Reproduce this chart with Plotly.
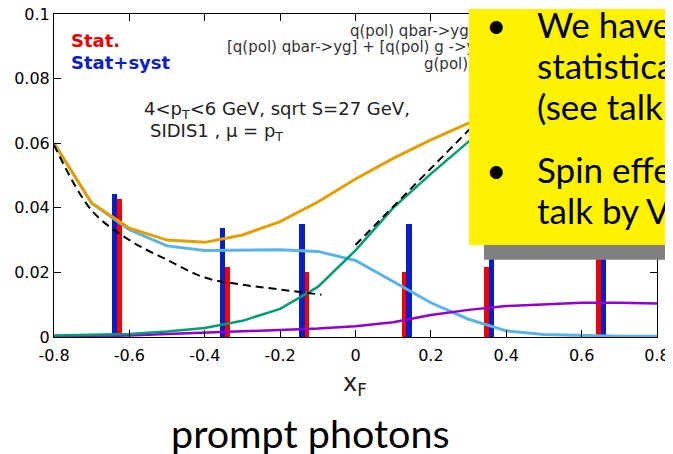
import plotly.graph_objects as go

# ---- data ----
x_grid = [-0.8, -0.7, -0.6, -0.5, -0.4, -0.3, -0.2, -0.1, 0.0, 0.1, 0.2, 0.3, 0.4, 0.5, 0.6, 0.7, 0.8]
orange_y = [0.0600, 0.0415, 0.0337, 0.0300, 0.0293, 0.0316, 0.0357, 0.0418, 0.0489, 0.0553, 0.0610, 0.0662, 0.0710]
lightblue_y = [0.0600, 0.0414, 0.0332, 0.0282, 0.0268, 0.0268, 0.0270, 0.0265, 0.0237, 0.0172, 0.0106, 0.0055, 0.0019, 0.0008, 0.0004, 0.0002, 0.0002]
green_y = [0.0005, 0.0006, 0.0009, 0.0017, 0.0028, 0.0050, 0.0087, 0.0155, 0.0268, 0.0400, 0.0505, 0.0605, 0.0700]
purple_y = [0.0000, 0.0002, 0.0005, 0.0009, 0.0013, 0.0017, 0.0021, 0.0026, 0.0033, 0.0046, 0.0068, 0.0084, 0.0096, 0.0102, 0.0106, 0.0106, 0.0104]

dash1_x = [-0.8, -0.7, -0.6, -0.5, -0.4, -0.3, -0.2, -0.09]
dash1_y = [0.0595, 0.0392, 0.0300, 0.0239, 0.0184, 0.0162, 0.0147, 0.0131]
dash2_x = [0.0, 0.1, 0.2, 0.3, 0.35]
dash2_y = [0.0285, 0.0402, 0.0522, 0.0640, 0.0700]

stat_x = [-0.627, -0.340, -0.129, 0.129, 0.348, 0.645]
stat_y = [0.0426, 0.0216, 0.0200, 0.0200, 0.0216, 0.0426]
syst_x = [-0.639, -0.353, -0.142, 0.142, 0.362, 0.659]
syst_y = [0.0442, 0.0337, 0.0349, 0.0349, 0.0337, 0.0442]

x_ticks = [-0.8, -0.6, -0.4, -0.2, 0, 0.2, 0.4, 0.6, 0.8]
x_ticklabels = ["-0.8", "-0.6", "-0.4", "-0.2", "0", "0.2", "0.4", "0.6", "0.8"]
y_ticks = [0, 0.02, 0.04, 0.06, 0.08, 0.1]
y_ticklabels = ["0", "0.02", "0.04", "0.06", "0.08", "0.1"]

key_lines = ["q(pol) qbar->yg", "[q(pol) qbar->yg] + [q(pol) g ->yq]", "g(pol) q->yq"]
slide_lines = ["We have", "statistical", "(see talk", "Spin effects", "talk by V"]

CHART_FONT = "DejaVu Sans"
SLIDE_FONT = "Lato"

fig = go.Figure()

fig.add_trace(go.Scatter(x=x_grid[:len(lightblue_y)], y=lightblue_y, mode="lines",
                         line=dict(color="#56b4e9", width=3), showlegend=False))
fig.add_trace(go.Scatter(x=x_grid[:len(purple_y)], y=purple_y, mode="lines",
                         line=dict(color="#9400d3", width=2.5), showlegend=False))
fig.add_trace(go.Scatter(x=x_grid[:len(green_y)], y=green_y, mode="lines",
                         line=dict(color="#009e73", width=2.5), showlegend=False))
fig.add_trace(go.Scatter(x=x_grid[:len(orange_y)], y=orange_y, mode="lines",
                         line=dict(color="#e69f00", width=3), showlegend=False))
fig.add_trace(go.Scatter(x=dash1_x, y=dash1_y, mode="lines", line_shape="spline",
                         line=dict(color="black", width=2, dash="8px,5px"), showlegend=False))
fig.add_trace(go.Scatter(x=dash2_x, y=dash2_y, mode="lines",
                         line=dict(color="black", width=2, dash="8px,5px"), showlegend=False))

fig.add_trace(go.Bar(x=syst_x, y=syst_y, width=0.0135, marker=dict(color="#0a1ec8", line_width=0),
                     showlegend=False))
fig.add_trace(go.Bar(x=stat_x, y=stat_y, width=0.0125, marker=dict(color="#f50000", line_width=0),
                     showlegend=False))

axis_common = dict(showline=True, linecolor="black", linewidth=1, mirror="ticks",
                   ticks="inside", ticklen=7, tickcolor="black", tickwidth=1,
                   showgrid=False, zeroline=False, ticklabeloverflow="allow", automargin=False,
                   tickfont=dict(family=CHART_FONT, size=16, color="black"))
fig.update_xaxes(range=[-0.8, 0.8], tickvals=x_ticks, ticktext=x_ticklabels,
                 ticklabelstandoff=4, **axis_common)
fig.update_yaxes(range=[0, 0.1], tickvals=y_ticks, ticktext=y_ticklabels, **axis_common)

# page offset (default body margin) and figure geometry, in screen pixels
OX, OY = 8, 8
W, H = 665, 446
L, R, T, B = 46, 16, 5.5, 116.5
pw, ph = W - L - R, H - T - B


def px(xp):
    return (xp - OX - L) / pw


def py(yp):
    return (OY + H - B - yp) / ph


ann = []
ann.append(dict(text="<b>Stat.</b>", x=px(69), y=py(40), xanchor="left", yanchor="middle",
                font=dict(family=CHART_FONT, size=18, color="#f00000")))
ann.append(dict(text="<b>Stat+syst</b>", x=px(69), y=py(62), xanchor="left", yanchor="middle",
                font=dict(family=CHART_FONT, size=18, color="#0a1ec8")))
ann.append(dict(text="4<p<sub>T</sub><6 GeV, sqrt S=27 GeV,", x=px(142), y=py(110), xanchor="left",
                yanchor="middle", font=dict(family=CHART_FONT, size=18, color="#222")))
ann.append(dict(text="SIDIS1 , \u03bc = p<sub>T</sub>", x=px(148), y=py(132), xanchor="left",
                yanchor="middle", font=dict(family=CHART_FONT, size=18, color="#222")))
key_x = [348, 225, 422]
key_y = [31, 47, 64]
for t, kx, ky in zip(key_lines, key_x, key_y):
    ann.append(dict(text=t, x=px(kx), y=py(ky), xanchor="left", yanchor="middle",
                    font=dict(family=CHART_FONT, size=15, color="#333")))
ann.append(dict(text="x<sub>F</sub>", x=px(355), y=py(385), xanchor="center", yanchor="middle",
                font=dict(family=CHART_FONT, size=24, color="#222")))
ann.append(dict(text="prompt photons", x=px(310), y=py(433), xanchor="center", yanchor="middle",
                font=dict(family=SLIDE_FONT, size=39.5, color="black")))
# yellow slide box (drawn over the chart)
ann.append(dict(text=" ", x=px(469), y=py(8), xanchor="left", yanchor="top", width=220, height=236,
                bgcolor="#fff200", borderpad=0, borderwidth=0, showarrow=False))
slide_y = [24, 65, 106, 169, 210]
for t, sy in zip(slide_lines, slide_y):
    ann.append(dict(text=t, x=px(535), y=py(sy), xanchor="left", yanchor="middle",
                    font=dict(family=SLIDE_FONT, size=35, color="black")))
for sy in [24, 169]:
    ann.append(dict(text="\u2022", x=px(496), y=py(sy), xanchor="center", yanchor="middle",
                    font=dict(family=SLIDE_FONT, size=35, color="black")))
for a in ann:
    a.setdefault("showarrow", False)
    a["xref"] = "paper"
    a["yref"] = "paper"

fig.update_layout(
    width=W, height=H,
    margin=dict(l=L, r=R, t=T, b=B, pad=0, autoexpand=False),
    paper_bgcolor="white", plot_bgcolor="white",
    barmode="overlay", bargap=0,
    annotations=ann,
    shapes=[dict(type="rect", xref="paper", yref="paper", x0=px(484), x1=px(690), y0=py(260), y1=py(244),
                 fillcolor="#808080", line_width=0, layer="above")],
)

fig.write_html("out.html")
